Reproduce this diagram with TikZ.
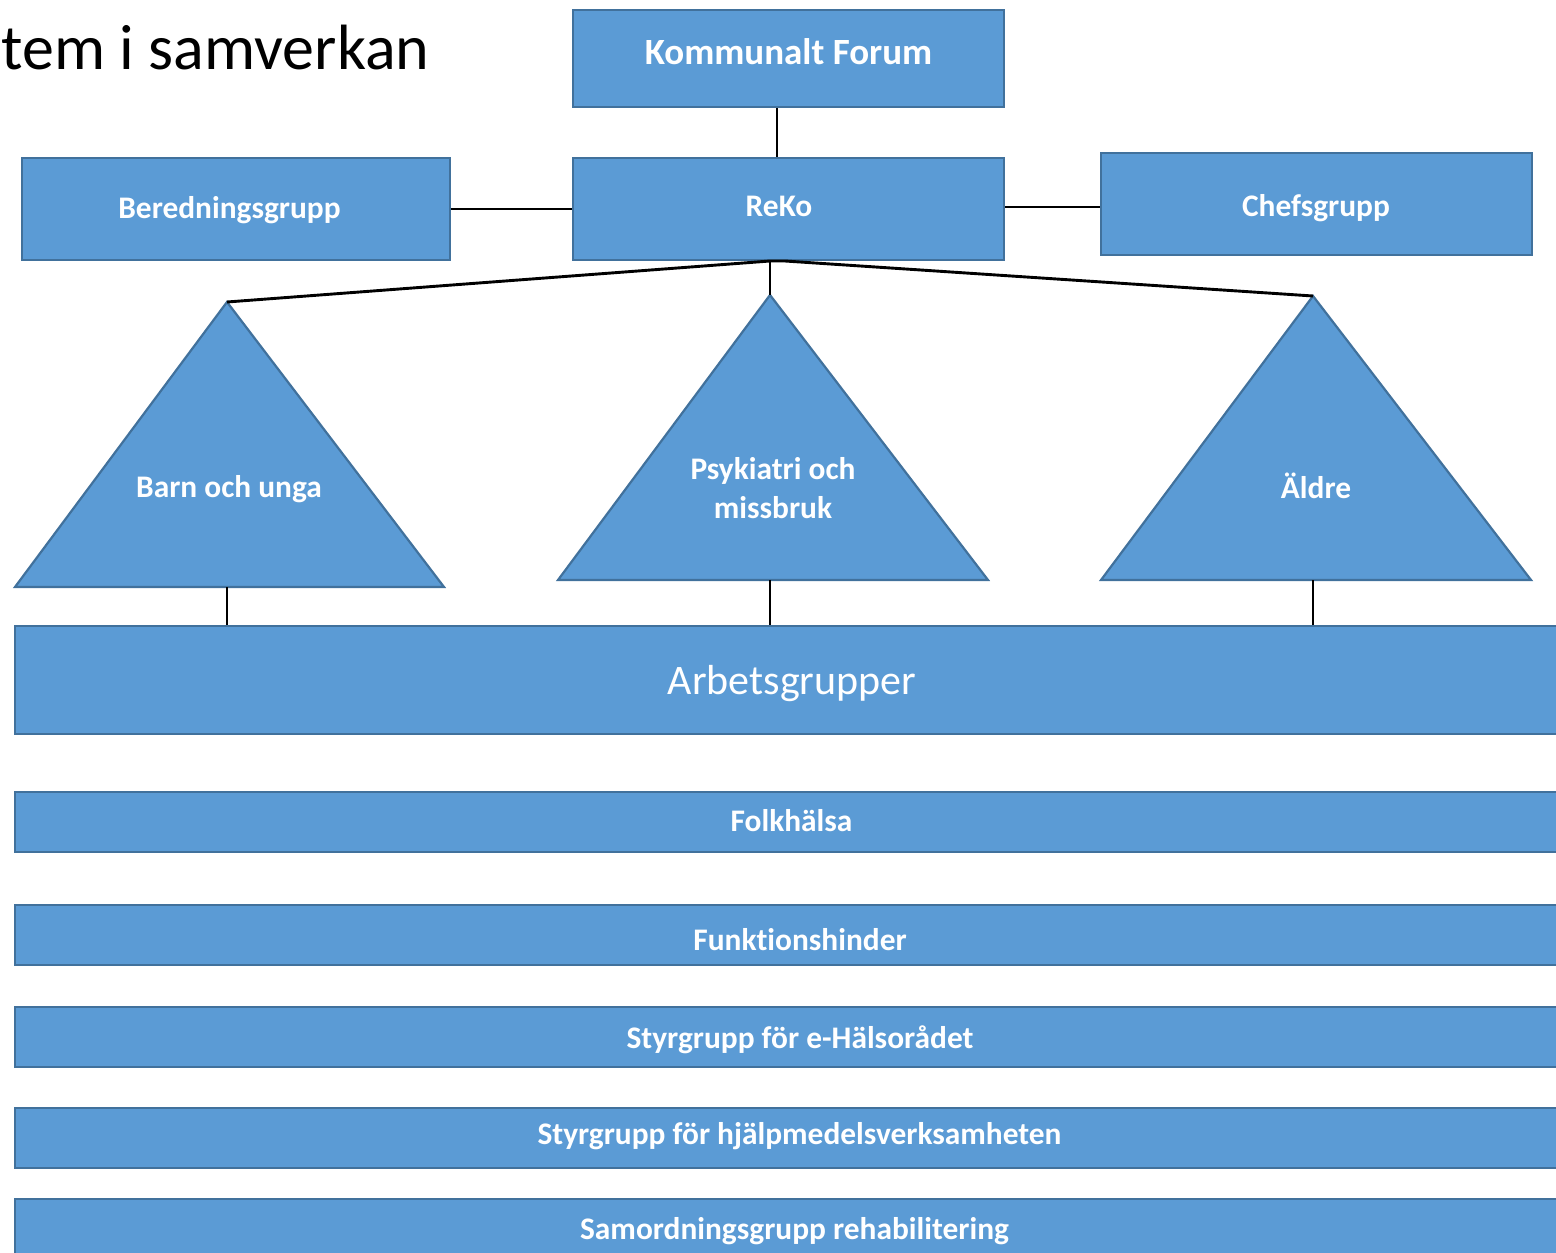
\documentclass[tikz,border=0pt]{standalone}
\usepackage{fontspec}
\setmainfont{Carlito}[Ligatures={NoCommon}]
\definecolor{fillblue}{HTML}{5B9BD5}
\definecolor{edgeblue}{HTML}{41719C}
\begin{document}
\begin{tikzpicture}[x=0.5pt,y=-0.5pt,
  box/.style={draw=edgeblue, fill=fillblue, line width=1.1pt, inner sep=0pt},
  tri/.style={draw=edgeblue, fill=fillblue, line width=1.1pt, line join=miter},
  lbl/.style={text=white, font=\bfseries\fontsize{15.7}{19.5}\selectfont, align=center, inner sep=0pt},
  conn/.style={line width=1.45pt, black}]
\clip (0,0) rectangle (1556,1252);
\useasboundingbox (0,0) rectangle (1556,1252);

\node[anchor=base west, inner sep=0pt, font=\fontsize{32}{36}\selectfont] (title) at (1,70) {tem i samverkan};

% top boxes
\node[box, minimum width=215.5pt, minimum height=48.5pt] (kf) at (788.5,58.5) {};
\node[box, minimum width=215.5pt, minimum height=51pt] (reko) at (788.5,209) {};
\node[box, minimum width=214pt, minimum height=51pt] (bered) at (236,209) {};
\node[box, minimum width=215.5pt, minimum height=51pt] (chefs) at (1316.5,204) {};
\node[lbl, font=\bfseries\fontsize{18.5}{22}\selectfont] (kft) at (788.5,52) {Kommunalt Forum};
\node[lbl] (rekot) at (779,206) {ReKo};
\node[lbl] (beredt) at (229.5,210) {Beredningsgrupp};
\node[lbl] (chefst) at (1316,208) {Chefsgrupp};

% triangles
\coordinate (ta) at (227,302);
\coordinate (tal) at (15,587);
\coordinate (tar) at (444,587);
\coordinate (tab) at (227,587);
\coordinate (tb) at (770,295);
\coordinate (tbl) at (558,580);
\coordinate (tbr) at (988,580);
\coordinate (tbb) at (770,580);
\coordinate (tc) at (1313,296);
\coordinate (tcl) at (1101,580);
\coordinate (tcr) at (1531,580);
\coordinate (tcb) at (1313,580);
\draw[tri] (ta) -- (tar) -- (tal) -- cycle;
\draw[tri] (tb) -- (tbr) -- (tbl) -- cycle;
\draw[tri] (tc) -- (tcr) -- (tcl) -- cycle;
\node[lbl] (la) at (229,489) {Barn och unga};
\node[lbl] (lb) at (773,488) {Psykiatri och\\missbruk};
\node[lbl] (lc) at (1316,486) {Äldre};

% bars
\node[box, minimum width=777.5pt, minimum height=54pt] (arb) at (792.5,680) {};
\node[box, minimum width=777.5pt, minimum height=30pt] (folk) at (792.5,822) {};
\node[box, minimum width=785pt, minimum height=30pt] (funk) at (800,935) {};
\node[box, minimum width=785pt, minimum height=30pt] (ehal) at (800,1037) {};
\node[box, minimum width=785pt, minimum height=30pt] (hjal) at (800,1138) {};
\node[box, minimum width=780pt, minimum height=30.5pt] (samo) at (795,1229.5) {};
\node[lbl, font=\fontsize{21}{25}\selectfont] (arbt) at (792,684) {Arbetsgrupper};
\node[lbl] (folkt) at (791.5,821) {Folkhälsa};
\node[lbl] (funkt) at (800,940) {Funktionshinder};
\node[lbl] (ehalt) at (800,1040) {Styrgrupp för e-Hälsorådet};
\node[lbl] (hjalt) at (799.5,1136) {Styrgrupp för hjälpmedelsverksamheten};
\node[lbl] (samot) at (794.5,1231) {Samordningsgrupp rehabilitering};

% connectors
\coordinate (rk1) at (770,261);
\coordinate (rk2) at (785,261);
\draw[conn] ([xshift=-5.75pt]kf.south) -- ([xshift=-5.75pt]reko.north);
\draw[conn] (bered.east) -- (reko.west);
\draw[conn] ([yshift=1pt]reko.east) -- ([yshift=1pt]reko.east -| chefs.west);
\draw[conn, line join=miter] (ta) -- (rk1) -- (rk2) -- (tc);
\draw[conn] (rk1) -- (tb);
\draw[conn] (tab) -- (tab |- arb.north);
\draw[conn] (tbb) -- (tbb |- arb.north);
\draw[conn] (tcb) -- (tcb |- arb.north);
\end{tikzpicture}
\end{document}
